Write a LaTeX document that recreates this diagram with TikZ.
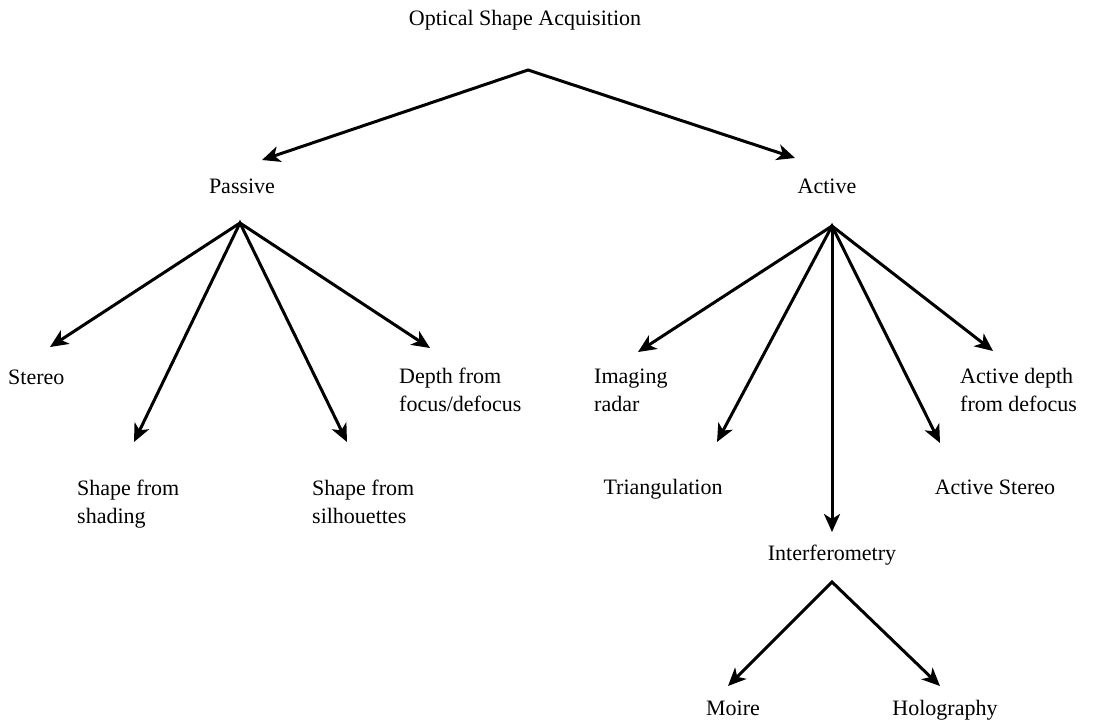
\documentclass[tikz,border=0pt]{standalone}
\usepackage{fontspec}
\setmainfont{Liberation Serif}
\usetikzlibrary{arrows.meta}
\begin{document}
\begin{tikzpicture}[x=1pt,y=-1pt,
  lbl/.style={inner sep=0pt, font=\fontsize{22}{28}\selectfont},
  lblml/.style={lbl, align=left, anchor=north west},
  tip/.tip={Stealth[length=18pt,width=16pt,inset=5pt]},
  fork/.style={line width=3pt, line join=miter, tip-tip},
  branch/.style={line width=3pt, -tip}]
\useasboundingbox[fill=white] (0,0) rectangle (1117,720);

% ---- labels ----
\node[lbl, anchor=base] (root) at (525,25) {Optical Shape Acquisition};
\node[lbl, anchor=base] (passive) at (242,193) {Passive};
\node[lbl, anchor=base] (active) at (827,193) {Active};

\node[lbl, anchor=base west] (stereo) at (8,384) {Stereo};
\node[lblml] (shading) at (77,480) {Shape from\\shading};
\node[lblml] (silh) at (312,480) {Shape from\\silhouettes};
\node[lblml] (depth) at (399,368) {Depth from\\focus/defocus};

\node[lblml] (imaging) at (594,369) {Imaging\\radar};
\node[lbl, anchor=base] (triang) at (663,494) {Triangulation};
\node[lbl, anchor=base] (interf) at (832,560) {Interferometry};
\node[lbl, anchor=base] (astereo) at (995,494) {Active Stereo};
\node[lblml] (adepth) at (960,368) {Active depth\\from defocus};

\node[lbl, anchor=base] (moire) at (733,715) {Moire};
\node[lbl, anchor=base] (holo) at (945,715) {Holography};

% ---- fork points and arrow ends ----
\coordinate (root-fork) at (528,70);
\coordinate (passive-in) at (262,160);
\coordinate (active-in) at (795,158);

\coordinate (passive-fork) at (240,223);
\coordinate (stereo-in) at (50,347);
\coordinate (shading-in) at (134,442);
\coordinate (silh-in) at (347,442);
\coordinate (depth-in) at (430,348);

\coordinate (active-fork) at (832,226);
\coordinate (imaging-in) at (638,352);
\coordinate (triang-in) at (717,442);
\coordinate (interf-in) at (832,532);
\coordinate (astereo-in) at (940,443);
\coordinate (adepth-in) at (993,351);

\coordinate (interf-fork) at (832,582);
\coordinate (moire-in) at (728,686);
\coordinate (holo-in) at (940,686);

% ---- connectors ----
\draw[fork] (passive-in) -- (root-fork) -- (active-in);

\draw[fork] (stereo-in) -- (passive-fork) -- (depth-in);
\draw[fork] (shading-in) -- (passive-fork) -- (silh-in);

\draw[fork] (imaging-in) -- (active-fork) -- (adepth-in);
\draw[fork] (triang-in) -- (active-fork) -- (astereo-in);
\draw[branch] (active-fork) -- (interf-in);

\draw[fork] (moire-in) -- (interf-fork) -- (holo-in);
\end{tikzpicture}
\end{document}
